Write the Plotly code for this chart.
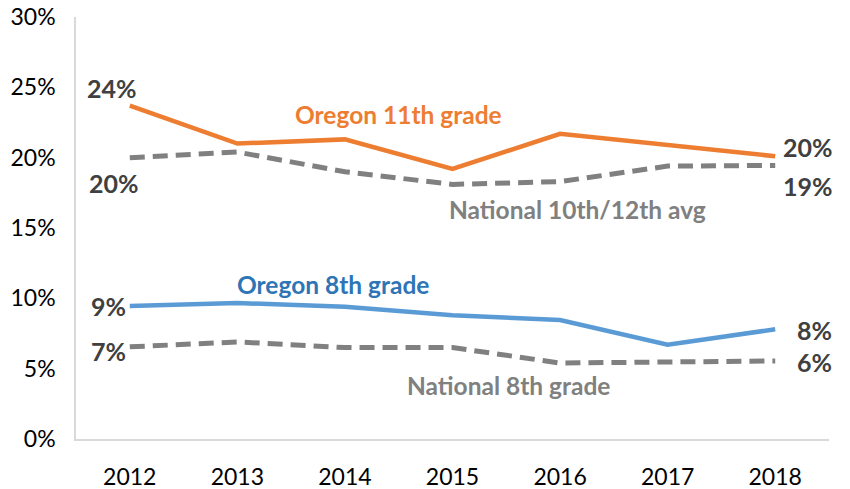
import plotly.graph_objects as go

years = ["2012", "2013", "2014", "2015", "2016", "2017", "2018"]
oregon_11 = [23.7, 21.0, 21.3, 19.2, 21.7, 20.9, 20.1]
national_10_12 = [20.0, 20.4, 19.0, 18.1, 18.3, 19.4, 19.45]
oregon_8 = [9.45, 9.67, 9.4, 8.8, 8.46, 6.7, 7.8]
national_8 = [6.55, 6.9, 6.5, 6.5, 5.4, 5.5, 5.55]
start_labels = {"oregon_11": "24%", "national_10_12": "20%", "oregon_8": "9%", "national_8": "7%"}
end_labels = {"oregon_11": "20%", "national_10_12": "19%", "oregon_8": "8%", "national_8": "6%"}
y_ticks = [0, 5, 10, 15, 20, 25, 30]
y_tick_labels = ["0%", "5%", "10%", "15%", "20%", "25%", "30%"]

ORANGE = "#ED7D31"
BLUE = "#5B9BD5"
GRAY = "#808080"
DARK = "#404040"
FONT = "Lato, 'Open Sans', sans-serif"
DASH = "15px,8px"

fig = go.Figure()
fig.add_trace(go.Scatter(x=years, y=national_10_12, mode="lines",
                         line=dict(color=GRAY, width=5, dash=DASH)))
fig.add_trace(go.Scatter(x=years, y=national_8, mode="lines",
                         line=dict(color=GRAY, width=5, dash=DASH)))
fig.add_trace(go.Scatter(x=years, y=oregon_11, mode="lines",
                         line=dict(color=ORANGE, width=4.5)))
fig.add_trace(go.Scatter(x=years, y=oregon_8, mode="lines",
                         line=dict(color=BLUE, width=4.5)))

ann = []
first, last = 0, len(years) - 1

def A(x, y, text, color, xanchor="center", xshift=0, yshift=0):
    ann.append(dict(x=x, y=y, xref="x", yref="y", text=f"<b>{text}</b>", showarrow=False,
                    font=dict(size=25, color=color, family=FONT),
                    xanchor=xanchor, xshift=xshift, yshift=yshift))

A(first, oregon_11[0], start_labels["oregon_11"], DARK, xshift=-18, yshift=18)
A(first, national_10_12[0], start_labels["national_10_12"], DARK, xshift=-16, yshift=-25)
A(first, oregon_8[0], start_labels["oregon_8"], DARK, xanchor="right", xshift=-2, yshift=0)
A(first, national_8[0], start_labels["national_8"], DARK, xanchor="right", xshift=-2, yshift=-4)
A(last, oregon_11[-1], end_labels["oregon_11"], DARK, xanchor="left", xshift=6, yshift=9)
A(last, national_10_12[-1], end_labels["national_10_12"], DARK, xanchor="left", xshift=6, yshift=-21)
A(last, oregon_8[-1], end_labels["oregon_8"], DARK, xanchor="left", xshift=20, yshift=-1)
A(last, national_8[-1], end_labels["national_8"], DARK, xanchor="left", xshift=20, yshift=-1)

ann.append(dict(x=2.5, y=23.05, xref="x", yref="y", text="<b>Oregon 11th grade</b>", showarrow=False,
                font=dict(size=24.5, color=ORANGE, family=FONT)))
ann.append(dict(x=4.16, y=16.35, xref="x", yref="y", text="<b>National 10th/12th avg</b>", showarrow=False,
                font=dict(size=24.5, color=GRAY, family=FONT)))
ann.append(dict(x=1.89, y=11.0, xref="x", yref="y", text="<b>Oregon 8th grade</b>", showarrow=False,
                font=dict(size=24.5, color="#2E75B6", family=FONT)))
ann.append(dict(x=3.52, y=3.8, xref="x", yref="y", text="<b>National 8th grade</b>", showarrow=False,
                font=dict(size=24.5, color=GRAY, family=FONT)))

fig.update_layout(
    width=850, height=489,
    margin=dict(l=76, r=21, t=17, b=50),
    paper_bgcolor="white", plot_bgcolor="white",
    showlegend=False,
    annotations=ann,
    font=dict(family=FONT, size=18, color="#000000"),
)
fig.update_xaxes(type="category", range=[-0.5, 6.5], showgrid=False,
                 showline=True, linecolor="#D9D9D9", linewidth=1.5, automargin=False,
                 ticks="", ticklabelstandoff=17, tickfont=dict(size=23, family=FONT, color="#000"))
fig.update_yaxes(range=[0, 30], tickvals=y_ticks, ticktext=y_tick_labels,
                 showgrid=False, showline=True, linecolor="#D9D9D9", linewidth=1.5,
                 ticks="", zeroline=False, ticklabelstandoff=14, automargin=False,
                 tickfont=dict(size=23, family=FONT, color="#000"))

fig.write_html("out.html", config={"displayModeBar": False},
               post_script="document.body.style.margin='0';document.body.style.overflow='hidden';")
